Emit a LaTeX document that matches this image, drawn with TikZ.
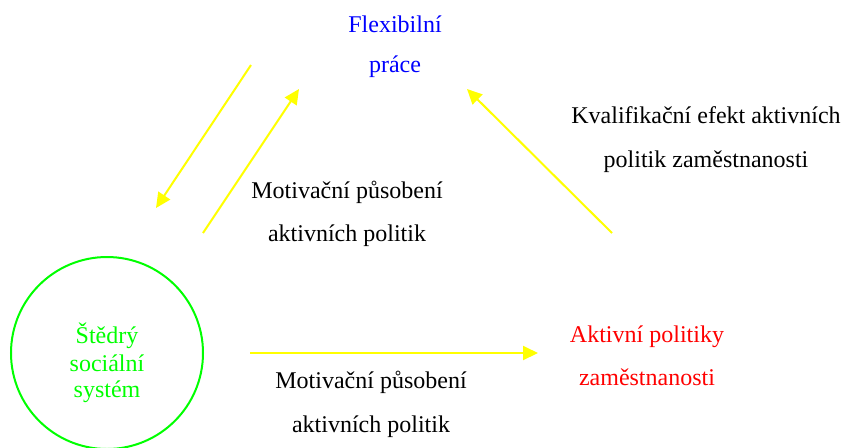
\documentclass[tikz,border=0pt]{standalone}
\usepackage{fontspec}
\setmainfont{Liberation Serif}
\usetikzlibrary{arrows.meta}
\definecolor{ylw}{RGB}{255,255,0}
\definecolor{grn}{RGB}{0,255,0}
\definecolor{blu}{RGB}{0,0,255}
\definecolor{rd}{RGB}{255,0,0}
\begin{document}
\begin{tikzpicture}[x=0.5pt,y=-0.5pt,
  lbl/.style={anchor=base,inner sep=0pt,font=\fontsize{12}{14}\selectfont},
  arr/.style={draw=ylw,line width=1pt,-{Triangle[length=7.5pt,width=7pt]}},
  ring/.style={draw=grn,line width=1pt,circle,minimum size=96pt,inner sep=0pt}]
\useasboundingbox (0,0) rectangle (843,447);
% circle
\node[ring] (circ) at (107,353) {};
\node[lbl,text=grn] (c1) at (107,343) {Štědrý};
\node[lbl,text=grn] (c2) at (107,371) {sociální};
\node[lbl,text=grn] (c3) at (107,397) {systém};
% top
\node[lbl,text=blu] (f1) at (395,32) {Flexibilní};
\node[lbl,text=blu] (f2) at (395,72) {práce};
% right
\node[lbl,text=rd] (r1) at (647,342) {Aktivní politiky};
\node[lbl,text=rd] (r2) at (647,385) {zaměstnanosti};
% labels
\node[lbl] (k1) at (706,123) {Kvalifikační efekt aktivních};
\node[lbl] (k2) at (706,167) {politik zaměstnanosti};
\node[lbl] (m1) at (347,198) {Motivační působení};
\node[lbl] (m2) at (347,241) {aktivních politik};
\node[lbl] (n1) at (371,388) {Motivační působení};
\node[lbl] (n2) at (371,432) {aktivních politik};
% arrow endpoints
\coordinate (a1s) at (251,65);
\coordinate (a1e) at (156,208);
\coordinate (a2s) at (203,233);
\coordinate (a2e) at (299,89);
\coordinate (a3s) at (612,233);
\coordinate (a3e) at (467,89);
\coordinate (a4s) at (250,353);
\coordinate (a4e) at (538,353);
\draw[arr] (a1s) -- (a1e);
\draw[arr] (a2s) -- (a2e);
\draw[arr] (a3s) -- (a3e);
\draw[arr] (a4s) -- (a4e);
\end{tikzpicture}
\end{document}
